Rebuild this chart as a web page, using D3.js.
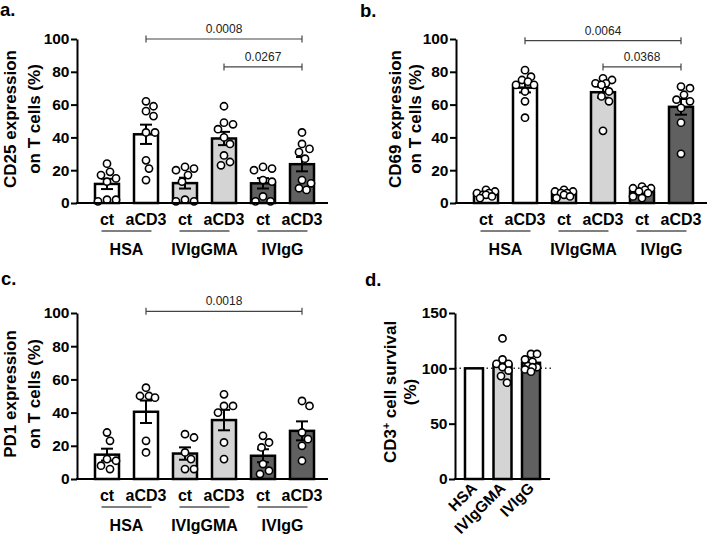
<!DOCTYPE html>
<html><head><meta charset="utf-8">
<script src="https://cdn.jsdelivr.net/npm/d3@7"></script>
<style>body{margin:0;background:#fff} text{font-family:"Liberation Sans",Arial,sans-serif}</style>
</head><body><svg id="c" width="709" height="539"></svg>
<script>
// ---- data ----
const conditions = ["ct","aCD3","ct","aCD3","ct","aCD3"];
const groups = ["HSA","IVIgGMA","IVIgG"];
const barFills = ["#ffffff","#ffffff","#d4d4d4","#d4d4d4","#606060","#606060"];
const yTicksPct = [0,20,40,60,80,100];
const cd25 = [[24,19,17,15,13,2,1,2],[62,59,56,53,43,43,26,21,14],[21,22,20,17,13,1,2,1],[59,48,49,45,40,36,29,25,23],[22,20,21,14,13,4,1,1],[43,36,33,31,27,14,12,9,8]];
const cd69 = [[8,6,7,4,3,5,6,5],[81,75,77,74,72,72,68,62,52],[7,6,4,3,6,7,5,8],[76,73,75,73,72,68,65,62,44],[10,9,9,8,7,6,4,3],[70,71,66,62,63,58,49,30]];
const pd1 = [[28,23,12,11,8,6],[55,50,50,49,23,16],[27,25,16,12,6,6],[51,44,44,40,22,12],[26,22,19,9,5,3],[47,44,28,24,20,11]];
const sigCD25 = [[1,5,100,"0.0008"],[3,5,83,"0.0267"]];
const sigCD69 = [[1,5,99,"0.0064"],[3,5,83,"0.0368"]];
const sigPD1 = [[1,5,101,"0.0018"]];
const survivalGroups = ["HSA","IVIgGMA","IVIgG"];
const survivalFills = ["#ffffff","#d4d4d4","#606060"];
const survivalBars = [100,103,105];
const survivalPoints = [[],[127,108,104,104,101,98,93,87],[113,113,108,106,102,101,101,97,99]];
const survivalTicks = [0,50,100,150];

const svg = d3.select("#c");
const FONT = '"Liberation Sans",Arial,sans-serif';
const R = 3.6;

function swarm(vals, yS, cx, maxOff){
  const placed=[]; const out=[];
  vals.map((v,i)=>({v,i})).sort((a,b)=>b.v-a.v).forEach(p=>{
    const py=yS(p.v); let best=cx, bestD=-1;
    for(let k=0;k<40;k++){
      const off=(k%2?1:-1)*Math.ceil(k/2)*1.5;
      if(Math.abs(off)>maxOff) break;
      const tx=cx+off;
      const d=placed.length?d3.min(placed,q=>Math.hypot(q[0]-tx,q[1]-py)):99;
      if(d>=2*R+1.4){best=tx;bestD=d;break;}
      if(d>bestD+0.8){bestD=d;best=tx;}
    }
    placed.push([best,py]); out.push([best,py]);
  });
  return out;
}
function mean(a){return d3.mean(a);}
function sem(a){return d3.deviation(a)/Math.sqrt(a.length);}

function yAxis(g, y, ticks){
  g.call(d3.axisLeft(y).tickValues(ticks).tickSize(6).tickSizeOuter(0).tickPadding(1.5));
  g.select(".domain").attr("stroke","#000").attr("stroke-width",2);
  g.selectAll(".tick line").attr("stroke","#000").attr("stroke-width",2);
  g.selectAll(".tick text").attr("font-family",FONT).attr("font-weight","bold").attr("font-size",15.5).attr("fill","#000");
}

function titleLines(x1,x2,cy,l1,l2){
  const g=svg.append("g");
  [[x1,l1],[x2,l2]].forEach(([bx,t])=>{
    const tx=g.append("text").attr("transform",`translate(${bx},${cy}) rotate(-90)`)
      .attr("text-anchor","middle").attr("font-weight","bold").attr("font-size",17);
    if(Array.isArray(t)){ t.forEach(s=>{const ts=tx.append("tspan").text(s.t); if(s.sup){ts.attr("font-size",10.5).attr("dy",-6.5);} if(s.after){ts.attr("dy",6.5);} }); }
    else tx.text(t);
  });
}

function panelLabel(x,y,t){
  svg.append("text").attr("x",x).attr("y",y).attr("font-weight","bold").attr("font-size",18.5).text(t);
}

function barPanel(o){
  const x0=o.x0, yB=o.yB, yT=o.yT;
  const y=d3.scaleLinear().domain([0,100]).range([yB,yT]);
  const x=d3.scaleBand().domain(d3.range(6)).range([x0+10.5,x0+244.5]).paddingInner(1/3).paddingOuter(1/6);
  const cx=i=>x(i)+x.bandwidth()/2;
  const bw=24;
  const g=svg.append("g");
  o.data.forEach((vals,i)=>{
    const m=mean(vals);
    g.append("rect").attr("x",cx(i)-bw/2).attr("y",y(m)).attr("width",bw).attr("height",yB-y(m))
      .attr("fill",barFills[i]).attr("stroke","#000").attr("stroke-width",2.5);
  });
  o.data.forEach((vals,i)=>{
    const m=mean(vals), s=sem(vals), c=cx(i);
    const eg=g.append("g").attr("stroke","#000").attr("stroke-width",2);
    eg.append("line").attr("x1",c).attr("x2",c).attr("y1",y(m-s)).attr("y2",y(m+s));
    eg.append("line").attr("x1",c-6).attr("x2",c+6).attr("y1",y(m+s)).attr("y2",y(m+s));
    eg.append("line").attr("x1",c-6).attr("x2",c+6).attr("y1",y(m-s)).attr("y2",y(m-s));
  });
  o.data.forEach((vals,i)=>{
    swarm(vals,y,cx(i),9).forEach(([px,py])=>{
      g.append("circle").attr("cx",px).attr("cy",py).attr("r",R).attr("fill","#fff").attr("stroke","#000").attr("stroke-width",1.6);
    });
  });
  yAxis(svg.append("g").attr("transform",`translate(${x0},0)`), y, yTicksPct);
  svg.append("line").attr("x1",x0-1).attr("x2",x0+251).attr("y1",yB).attr("y2",yB).attr("stroke","#000").attr("stroke-width",2);
  const xa=svg.append("g").attr("transform",`translate(0,${yB})`).call(d3.axisBottom(x).tickSize(0).tickPadding(0).tickFormat(i=>conditions[i]));
  xa.select(".domain").remove();
  xa.selectAll(".tick text").attr("dy",null).attr("y",22).attr("font-family",FONT).attr("font-weight","bold").attr("font-size",16).attr("fill","#000");
  groups.forEach((gName,k)=>{
    const gc=(cx(2*k)+cx(2*k+1))/2;
    svg.append("line").attr("x1",gc-25).attr("x2",gc+25).attr("y1",yB+28).attr("y2",yB+28).attr("stroke","#000").attr("stroke-width",1);
    svg.append("text").attr("x",gc).attr("y",yB+52).attr("text-anchor","middle").attr("font-weight","bold").attr("font-size",16).text(gName);
  });
  o.sig.forEach(([a,b,v,lab])=>{
    const yy=y(v), xa1=cx(a), xb=cx(b);
    const sg=svg.append("g").attr("stroke","#444").attr("stroke-width",1.2);
    sg.append("line").attr("x1",xa1).attr("x2",xb).attr("y1",yy).attr("y2",yy);
    sg.append("line").attr("x1",xa1).attr("x2",xa1).attr("y1",yy-3.5).attr("y2",yy+3.5);
    sg.append("line").attr("x1",xb).attr("x2",xb).attr("y1",yy-3.5).attr("y2",yy+3.5);
    svg.append("text").attr("x",(xa1+xb)/2).attr("y",yy-6).attr("text-anchor","middle").attr("font-size",12).attr("fill","#222").text(lab);
  });
}

barPanel({x0:77,yB:203,yT:39,data:cd25,sig:sigCD25});
titleLines(15.5,39.5,119,"CD25 expression","on T cells (%)");
panelLabel(0,16,"a.");

barPanel({x0:456,yB:203,yT:39,data:cd69,sig:sigCD69});
titleLines(401,421,119,"CD69 expression","on T cells (%)");
panelLabel(360,17,"b.");

barPanel({x0:77,yB:479,yT:313,data:pd1,sig:sigPD1});
titleLines(15.5,39.5,394,"PD1 expression","on T cells (%)");
panelLabel(1,285,"c.");

(function(){
  const x0=455, yB=479, yT=313;
  const y=d3.scaleLinear().domain([0,150]).range([yB,yT]);
  const x=d3.scaleBand().domain(d3.range(3)).range([x0,x0+95]).paddingInner(0.3).paddingOuter(0.316);
  const cx=i=>x(i)+x.bandwidth()/2;
  const bw=18;
  svg.append("line").attr("x1",x0).attr("x2",x0+97).attr("y1",y(100)).attr("y2",y(100))
    .attr("stroke","#333").attr("stroke-width",1.5).attr("stroke-dasharray","1.5,3");
  survivalBars.forEach((m,i)=>{
    svg.append("rect").attr("x",cx(i)-bw/2).attr("y",y(m)).attr("width",bw).attr("height",yB-y(m))
      .attr("fill",survivalFills[i]).attr("stroke","#000").attr("stroke-width",2.5);
  });
  survivalPoints.forEach((vals,i)=>{
    swarm(vals,y,cx(i),7).forEach(([px,py])=>{
      svg.append("circle").attr("cx",px).attr("cy",py).attr("r",R).attr("fill","#fff").attr("stroke","#000").attr("stroke-width",1.6);
    });
  });
  yAxis(svg.append("g").attr("transform",`translate(${x0},0)`), y, survivalTicks);
  svg.append("line").attr("x1",x0-1).attr("x2",x0+95).attr("y1",yB).attr("y2",yB).attr("stroke","#000").attr("stroke-width",2);
  survivalGroups.forEach((t,i)=>{
    svg.append("text").attr("transform",`translate(${cx(i)+4},${yB+10}) rotate(-45)`).attr("text-anchor","end")
      .attr("font-weight","bold").attr("font-size",15.5).text(t);
  });
  titleLines(396,416,392,[{t:"CD3"},{t:"+",sup:true},{t:" cell survival",after:true}],"(%)");
  panelLabel(365,286,"d.");
})();
</script></body></html>
